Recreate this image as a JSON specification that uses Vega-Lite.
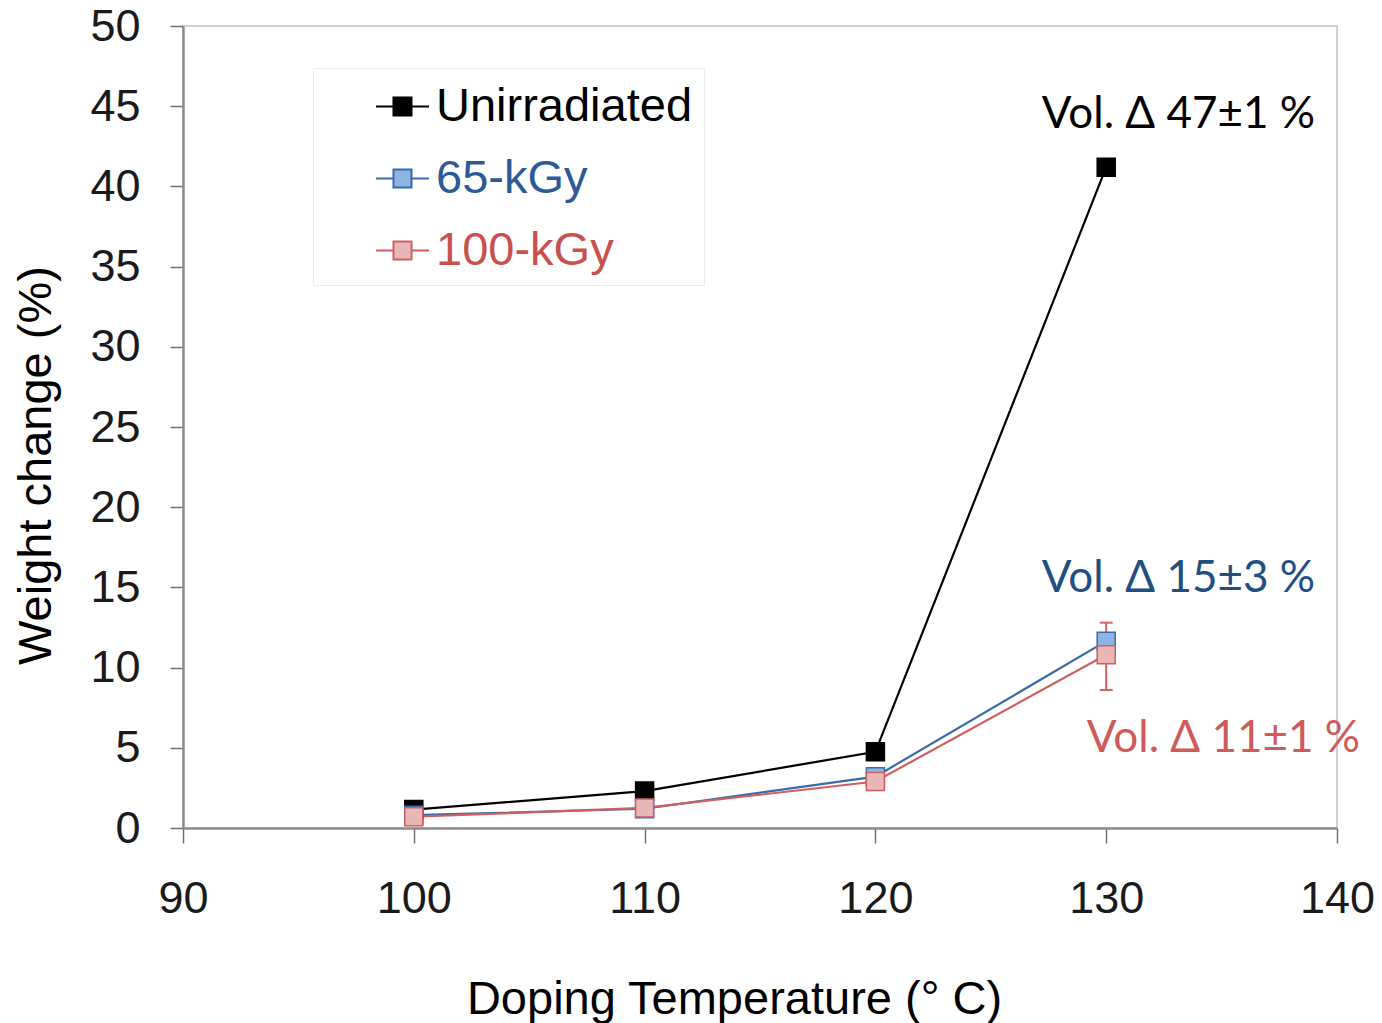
{
  "$schema": "https://vega.github.io/schema/vega-lite/v6.json",
  "width": 1154,
  "height": 802,
  "autosize": {"type": "none"},
  "padding": {"left": 183, "top": 26, "right": 45, "bottom": 195},
  "background": "white",
  "config": {
    "view": {"stroke": "#d0d0d0", "strokeWidth": 2},
    "font": "Liberation Sans",
    "axis": {
      "grid": false,
      "labelFont": "Liberation Sans",
      "titleFont": "Liberation Sans",
      "labelColor": "#1a1a1a",
      "titleColor": "#000000",
      "titleFontWeight": "normal",
      "labelFontSize": 45,
      "titleFontSize": 46,
      "domainColor": "#8c8c8c",
      "domainWidth": 2.5,
      "tickColor": "#707070",
      "tickWidth": 1.5,
      "labelFlush": false,
      "labelOverlap": false,
      "labelBound": false
    }
  },
  "datasets": {
    "pts": [
      {"t": 100, "w": 1.15, "series": "Unirradiated", "k": 0},
      {"t": 110, "w": 2.3, "series": "Unirradiated", "k": 0},
      {"t": 120, "w": 4.75, "series": "Unirradiated", "k": 0},
      {"t": 130, "w": 41.2, "series": "Unirradiated", "k": 0},
      {"t": 100, "w": 0.8, "series": "65-kGy", "k": 1},
      {"t": 110, "w": 1.2, "series": "65-kGy", "k": 1},
      {"t": 120, "w": 3.2, "series": "65-kGy", "k": 1},
      {"t": 130, "w": 11.65, "series": "65-kGy", "k": 1},
      {"t": 100, "w": 0.7, "series": "100-kGy", "k": 2},
      {"t": 110, "w": 1.25, "series": "100-kGy", "k": 2},
      {"t": 120, "w": 2.9, "series": "100-kGy", "k": 2},
      {"t": 130, "w": 10.8, "series": "100-kGy", "k": 2}
    ],
    "err": [
      {"t": 130, "series": "100-kGy", "lo": 8.6, "hi": 12.8}
    ],
    "notes": [
      {"series": "Unirradiated", "t": 133.13, "w": 43.64, "label": "Vol. Δ 47±1 %"},
      {"series": "65-kGy", "t": 133.13, "w": 14.71, "label": "Vol. Δ 15±3 %"},
      {"series": "100-kGy", "t": 135.08, "w": 4.74, "label": "Vol. Δ 11±1 %"}
    ]
  },
  "encoding": {
    "x": {
      "field": "t", "type": "quantitative",
      "scale": {"domain": [90, 140], "nice": false, "zero": false},
      "axis": {
        "values": [90, 100, 110, 120, 130, 140],
        "tickSize": 15,
        "labelPadding": 33,
        "title": "Doping Temperature (° C)",
        "titleFontSize": 47,
        "titleX": 551,
        "titleY": 185,
        "titleBaseline": "alphabetic",
        "titleAnchor": null,
        "titleAlign": "center"
      }
    },
    "y": {
      "field": "w", "type": "quantitative",
      "scale": {"domain": [0, 50], "nice": false},
      "axis": {
        "values": [0, 5, 10, 15, 20, 25, 30, 35, 40, 45, 50],
        "tickSize": 13,
        "labelPadding": 30,
        "title": "Weight change (%)",
        "titleFontSize": 47,
        "titleAngle": -90,
        "titleX": -133,
        "titleY": 439,
        "titleBaseline": "alphabetic",
        "titleAlign": "center",
        "titleAnchor": null
      }
    }
  },
  "layer": [
    {
      "data": {"name": "pts"},
      "mark": {"type": "line", "strokeWidth": 2.2},
      "encoding": {
        "stroke": {
          "field": "series", "type": "nominal",
          "scale": {"domain": ["Unirradiated", "65-kGy", "100-kGy"], "range": ["#000000", "#3a6aab", "#d05f5f"]},
          "legend": {
            "title": null,
            "orient": "none",
            "legendX": 130,
            "legendY": 42,
            "padding": 11,
            "symbolOffset": 51,
            "fillColor": "white",
            "strokeColor": "#ececec",
            "symbolType": "M-1,0H-0.34M0.34,0H1M-0.34,-0.34H0.34V0.34H-0.34Z",
            "symbolSize": 2809,
            "symbolStrokeWidth": 2,
            "symbolOpacity": 1,
            "labelFont": "Liberation Sans",
            "labelFontSize": 47,
            "labelOffset": 6,
            "rowPadding": 21,
            "labelLimit": 600,
            "encode": {"labels": {"update": {"fill": {"signal": "datum.label === 'Unirradiated' ? '#000000' : datum.label === '65-kGy' ? '#2c5a96' : '#c9504d'"}}}}
          }
        }
      }
    },
    {
      "data": {"name": "err"},
      "mark": {"type": "rule", "color": "#d26262", "strokeWidth": 2},
      "encoding": {"y": {"field": "lo", "type": "quantitative"}, "y2": {"field": "hi"}}
    },
    {
      "data": {"name": "err"},
      "mark": {"type": "tick", "orient": "horizontal", "color": "#d26262", "size": 13, "thickness": 2, "opacity": 1},
      "encoding": {"y": {"field": "lo", "type": "quantitative"}}
    },
    {
      "data": {"name": "err"},
      "mark": {"type": "tick", "orient": "horizontal", "color": "#d26262", "size": 13, "thickness": 2, "opacity": 1},
      "encoding": {"y": {"field": "hi", "type": "quantitative"}}
    },
    {
      "data": {"name": "pts"},
      "mark": {"type": "point", "shape": "square", "size": 324, "filled": true, "opacity": 1, "strokeWidth": 1.5},
      "encoding": {
        "fill": {
          "field": "series", "type": "nominal",
          "scale": {"domain": ["Unirradiated", "65-kGy", "100-kGy"], "range": ["#000000", "#8db4e2", "#e8b8b8"]},
          "legend": {
            "title": null,
            "orient": "none",
            "legendX": 130,
            "legendY": 42,
            "padding": 11,
            "symbolOffset": 51,
            "fillColor": "white",
            "strokeColor": "#ececec",
            "symbolType": "M-1,0H-0.34M0.34,0H1M-0.34,-0.34H0.34V0.34H-0.34Z",
            "symbolSize": 2809,
            "symbolStrokeWidth": 2,
            "symbolOpacity": 1,
            "labelFont": "Liberation Sans",
            "labelFontSize": 47,
            "labelOffset": 6,
            "rowPadding": 21,
            "labelLimit": 600,
            "encode": {"labels": {"update": {"fill": {"signal": "datum.label === 'Unirradiated' ? '#000000' : datum.label === '65-kGy' ? '#2c5a96' : '#c9504d'"}}}}
          }
        },
        "stroke": {"field": "series", "type": "nominal"},
        "order": {"field": "k", "type": "quantitative"}
      }
    },
    {
      "data": {"name": "notes"},
      "transform": [{"filter": "datum.series === 'Unirradiated'"}],
      "mark": {"type": "text", "font": "Lato", "fontSize": 44, "color": "#000000", "align": "center", "baseline": "alphabetic"},
      "encoding": {"text": {"field": "label"}}
    },
    {
      "data": {"name": "notes"},
      "transform": [{"filter": "datum.series === '65-kGy'"}],
      "mark": {"type": "text", "font": "Lato", "fontSize": 44, "color": "#1f4e82", "align": "center", "baseline": "alphabetic"},
      "encoding": {"text": {"field": "label"}}
    },
    {
      "data": {"name": "notes"},
      "transform": [{"filter": "datum.series === '100-kGy'"}],
      "mark": {"type": "text", "font": "Lato", "fontSize": 44, "color": "#cf5a5a", "align": "center", "baseline": "alphabetic"},
      "encoding": {"text": {"field": "label"}}
    }
  ]
}
